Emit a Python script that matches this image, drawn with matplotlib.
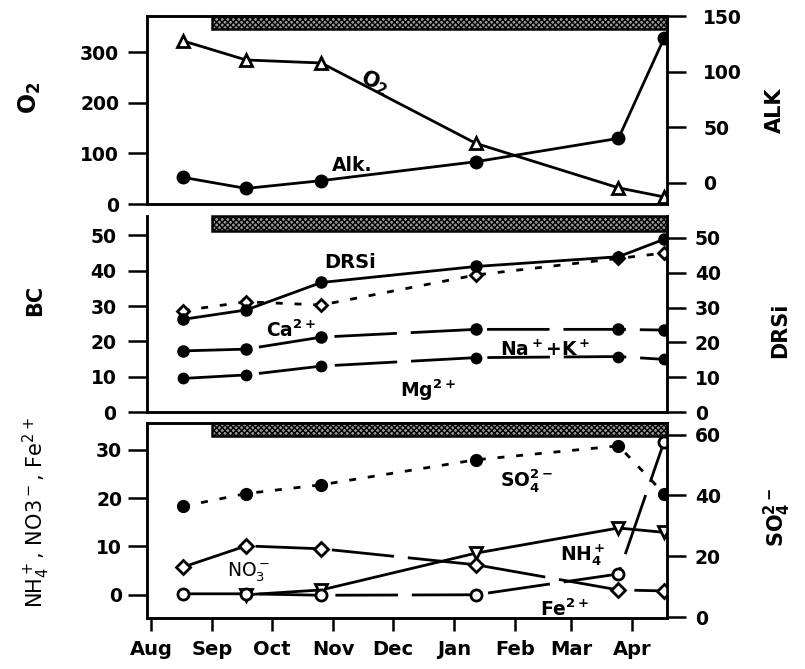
import matplotlib

matplotlib.use("Agg")
import matplotlib.pyplot as plt
import matplotlib.dates as mdates
from matplotlib.patches import Rectangle
import numpy as np
import pandas as pd

plt.rcParams['font.family'] = ['DejaVu Sans']
plt.rcParams['font.weight'] = 'bold'
plt.rcParams['mathtext.default'] = 'regular'
plt.rcParams['lines.scale_dashes'] = False
plt.rcParams['hatch.linewidth'] = 1.0

W, H = 805, 669

# sampling dates
sample_dates = pd.to_datetime(['1996-08-17', '1996-09-18', '1996-10-26',
                               '1997-01-12', '1997-03-25', '1997-04-17'])
ice_start = pd.Timestamp('1996-09-01')
x_lo, x_hi = pd.Timestamp('1996-07-30'), pd.Timestamp('1997-04-18 12:00')

# top panel
o2 = [323, 285, 279, 120, 32, 14]
alk = [5, -5, 2, 19, 40, 130]

# middle panel
drsi = [26.6, 29.3, 37.2, 41.8, 44.6, 49.6]
bc = [28.7, 31.2, 30.3, 38.8, 43.5, 45.0]
ca = [17.3, 17.8, 21.2, 23.4, 23.4, 23.2]
mg = [9.5, 10.5, 13.0, 15.4, 15.7, 14.9]

# bottom panel
so4 = [36.4, 40.6, 43.5, 51.7, 56.3, 40.6]
no3 = [5.7, 10.1, 9.5, 6.2, 1.0, 0.8]
fe = [0.2, 0.2, -0.1, 0.0, 4.3, 31.6]
nh4 = [np.nan, 0.0, 1.0, 8.6, 13.8, 12.9]

LW = 2.0
MEW = 2.0
DOT = (0, (5, 8.5))
LONG = (0, (45, 10))
TICK_FS = 13.5
LABEL_FS = 15
NOTE_FS = 13.5


def px_axes(left, top, right, bottom):
    return [left / W, 1 - bottom / H, (right - left) / W, (bottom - top) / H]


def style_axis(ax, left_pad, ylim, yticks):
    ax.set_xlim(x_lo, x_hi)
    ax.set_ylim(*ylim)
    ax.set_yticks(yticks)
    ax.tick_params(axis='y', direction='out', length=14, width=1.8,
                   pad=left_pad, labelsize=TICK_FS, right=False)
    ax.tick_params(axis='x', bottom=False, labelbottom=False)
    for s in ax.spines.values():
        s.set_linewidth(1.8)


def style_twin(ax2, pad, ylim, yticks):
    ax2.set_ylim(*ylim)
    ax2.set_yticks(yticks)
    ax2.tick_params(axis='y', direction='out', length=14, width=1.8,
                    pad=pad, labelsize=TICK_FS)
    for s in ax2.spines.values():
        s.set_linewidth(1.8)


def ice_bar(ax, frac):
    x0 = mdates.date2num(ice_start)
    x1 = mdates.date2num(x_hi)
    ax.add_patch(Rectangle((x0, 1 - frac), x1 - x0, frac,
                           transform=ax.get_xaxis_transform(),
                           facecolor='#9a9a9a', edgecolor='black',
                           hatch='xxxxxx', linewidth=1.8, zorder=6,
                           clip_on=False))


def note(s, px, py, **kw):
    kw.setdefault('fontsize', NOTE_FS)
    fig.text(px / W, 1 - py / H, s, **kw)


fig = plt.figure(figsize=(W / 100, H / 100), dpi=100)
fig.patch.set_facecolor('white')

# ---- top panel: O2 / alkalinity
ax1 = fig.add_axes(px_axes(147, 16, 667, 204))
style_axis(ax1, 6, (0, 372), [0, 100, 200, 300])
ax1.plot(sample_dates, o2, color='black', lw=LW, marker='^', ms=9,
         mfc='white', mec='black', mew=MEW, zorder=4)
ax1b = ax1.twinx()
style_twin(ax1b, 12, (-19, 150), [0, 50, 100, 150])
ax1b.plot(sample_dates, alk, color='black', lw=LW, marker='o', ms=9, zorder=4)
ice_bar(ax1, 0.069)

# ---- middle panel: base cations / DRSi
ax2 = fig.add_axes(px_axes(147, 216, 667, 412))
style_axis(ax2, 8, (0, 55.5), [0, 10, 20, 30, 40, 50])
ax2.spines['top'].set_visible(False)
ax2.plot(sample_dates, bc, color='black', lw=LW, ls=DOT, marker='D', ms=6.5,
         mfc='white', mec='black', mew=MEW, zorder=4)
ax2.plot(sample_dates, ca, color='black', lw=LW, ls=LONG, marker='o', ms=8,
         zorder=4)
ax2.plot(sample_dates, mg, color='black', lw=LW, ls=LONG, marker='o', ms=7.5,
         zorder=4)
ax2b = ax2.twinx()
style_twin(ax2b, 6, (0, 56.3), [0, 10, 20, 30, 40, 50])
ax2b.spines['top'].set_visible(False)
ax2b.plot(sample_dates, drsi, color='black', lw=LW, marker='o', ms=8,
          zorder=4)
ice_bar(ax2, 0.077)

# ---- bottom panel: N species, Fe, SO4
ax3 = fig.add_axes(px_axes(147, 423, 667, 618))
style_axis(ax3, 4, (-4.8, 35.5), [0, 10, 20, 30])
ax3.plot(sample_dates, nh4, color='black', lw=LW, marker='v', ms=8.5,
         mfc='white', mec='black', mew=MEW, zorder=3)
ax3.plot(sample_dates, no3, color='black', lw=LW, ls=LONG, marker='D', ms=7,
         mfc='white', mec='black', mew=MEW, zorder=4)
ax3.plot(sample_dates, fe, color='black', lw=LW, ls=LONG, marker='o', ms=8,
         mfc='white', mec='black', mew=MEW, zorder=5)
ax3b = ax3.twinx()
style_twin(ax3b, 6, (-0.3, 63.8), [0, 20, 40, 60])
ax3b.plot(sample_dates, so4, color='black', lw=LW, ls=DOT, marker='o', ms=8.5,
          zorder=4)
ice_bar(ax3, 0.067)

ax3.xaxis.set_major_locator(mdates.MonthLocator())
ax3.xaxis.set_major_formatter(mdates.DateFormatter('%b'))
ax3.tick_params(axis='x', bottom=True, labelbottom=True, direction='out',
                length=9, width=1.8, pad=7, labelsize=14)

# axis titles
fig.text(30 / W, 1 - 98 / H, 'O$_2$', rotation=90, ha='center', va='center',
         fontsize=17)
fig.text(775 / W, 1 - 110 / H, 'ALK', rotation=90, ha='center', va='center',
         fontsize=LABEL_FS)
fig.text(35 / W, 1 - 300 / H, 'BC', rotation=90, ha='center', va='center',
         fontsize=LABEL_FS)
fig.text(780 / W, 1 - 330 / H, 'DRSi', rotation=90, ha='center', va='center',
         fontsize=LABEL_FS)
fig.text(36 / W, 1 - 513 / H, 'NH$_4^+$, NO3$^-$, Fe$^{2+}$', rotation=90,
         ha='center', va='center', fontsize=LABEL_FS, fontweight='normal')
fig.text(777 / W, 1 - 518 / H, 'SO$_4^{2-}$', rotation=90, ha='center',
         va='center', fontsize=LABEL_FS)

# series labels
note('O$_2$', 375, 82, rotation=-22, ha='center', va='center', fontsize=15)
note('Alk.', 352, 165, ha='center', va='center')
note('DRSi', 350, 262, ha='center', va='center', fontsize=14)
note('Ca$^{2+}$', 266, 337, ha='left', va='baseline')
note('Na$^+$+K$^+$', 500, 356, ha='left', va='baseline')
note('Mg$^{2+}$', 400, 397, ha='left', va='baseline')
note('SO$_4^{2-}$', 500, 486, ha='left', va='baseline')
note('NH$_4^+$', 560, 560, ha='left', va='baseline')
note('NO$_3^-$', 227, 577, ha='left', va='baseline', fontweight='normal')
note('Fe$^{2+}$', 540, 616, ha='left', va='baseline')

fig.savefig('out.png', dpi=100, facecolor='white')
